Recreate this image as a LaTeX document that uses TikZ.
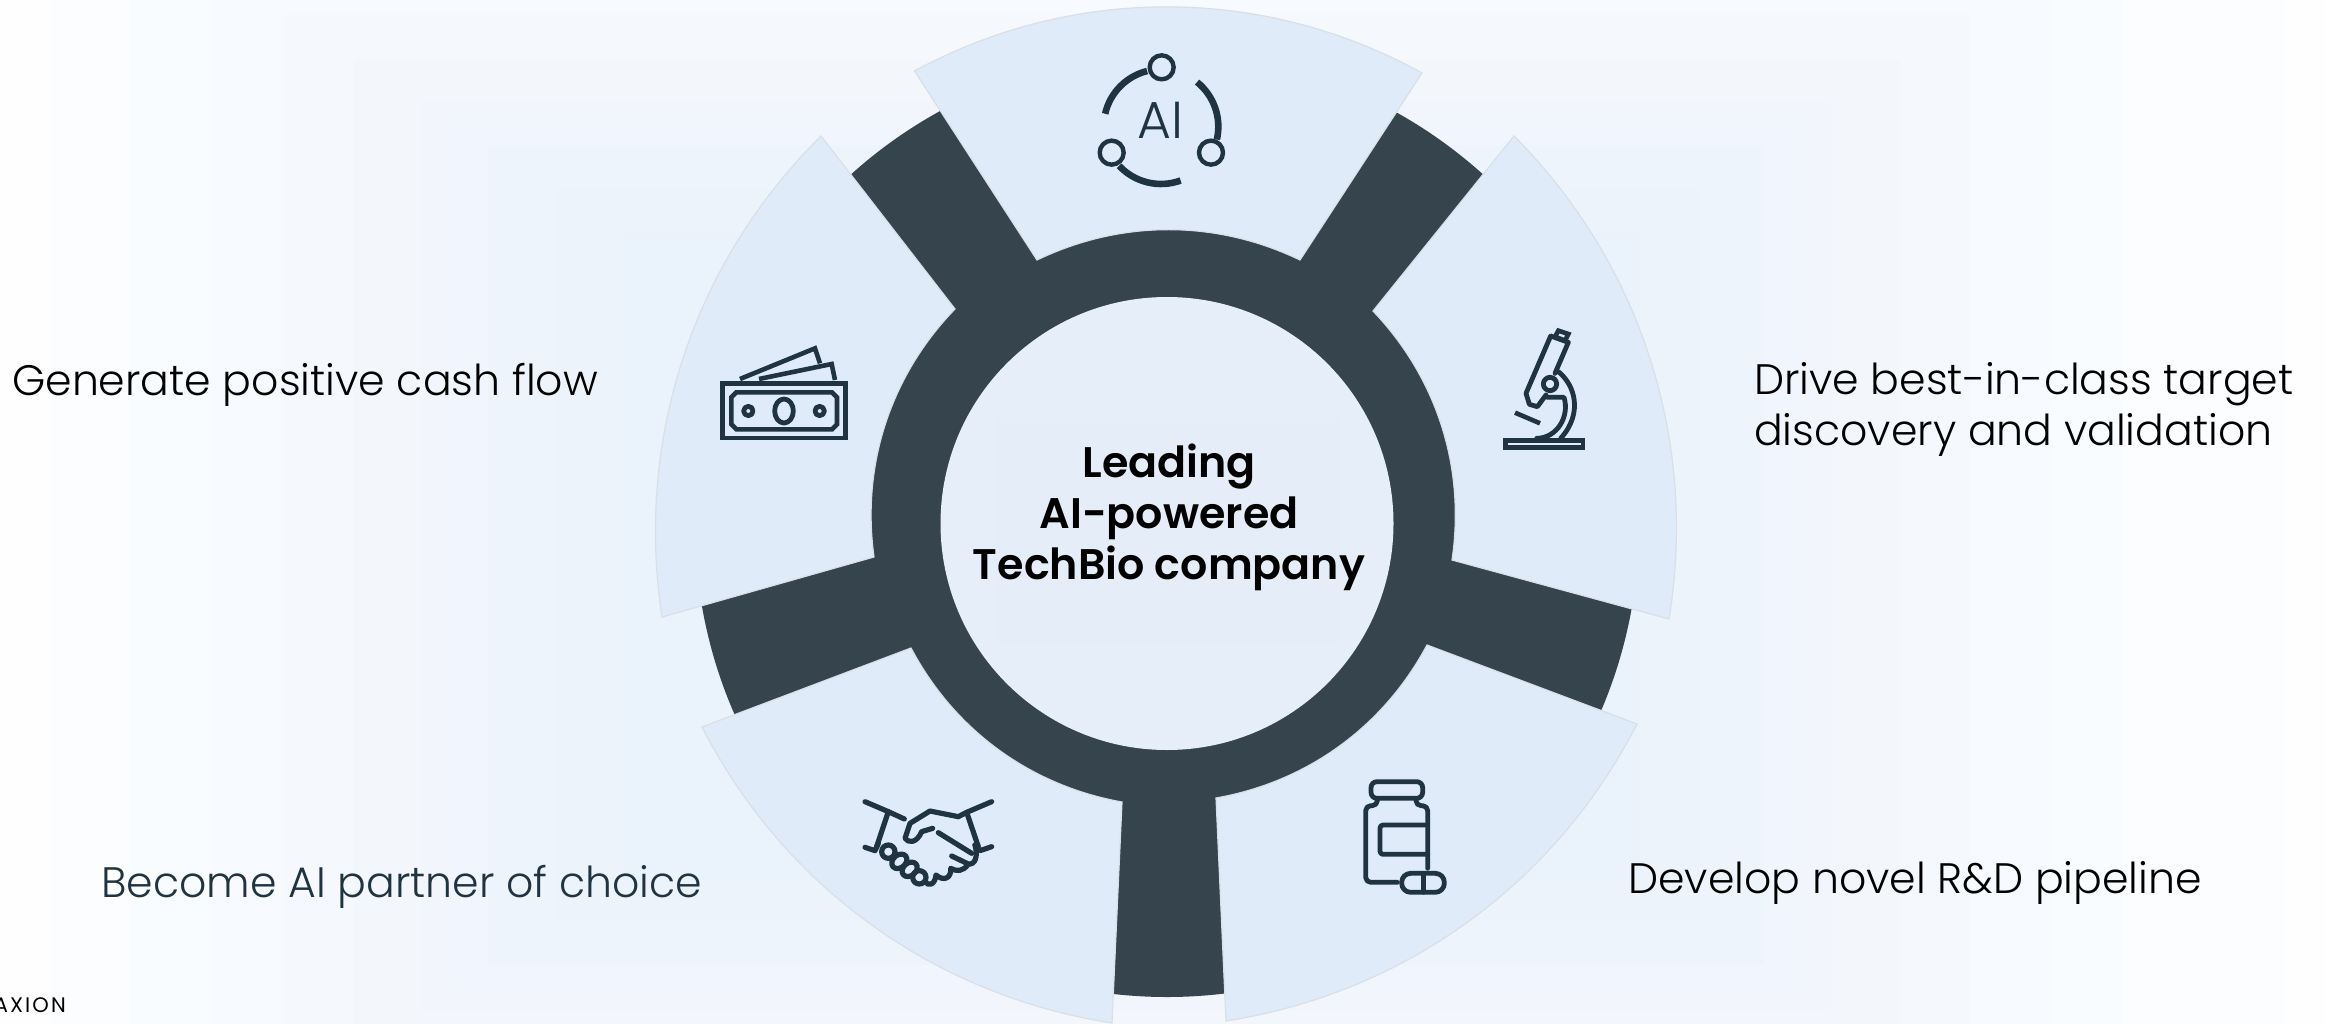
\documentclass[tikz,border=0pt]{standalone}
\usepackage{fontspec}
\setmainfont{Poppins}
\newfontfamily\poplight{Poppins Light}
\newfontfamily\popsemi{Poppins SemiBold}
\definecolor{dark}{HTML}{36444D}
\definecolor{icon}{HTML}{1F3340}
\definecolor{wedge}{HTML}{DFEBF9}
\definecolor{wedgeedge}{HTML}{D9DFE6}
\definecolor{hole}{HTML}{E6EEF9}
\tikzset{
  wedgeshape/.style={fill=wedge,draw=wedgeedge,line width=1.2pt,line join=miter},
  outerarc/.style={bend left=27,looseness=.91},
  innerarc/.style={bend right=26,looseness=.91},
  iconline/.style={draw=icon,line width=4.8pt,line cap=round,line join=round},
  handline/.style={draw=icon,line width=5.2pt,line cap=round,line join=round},
  iconmiter/.style={draw=icon,line width=4.6pt,line cap=butt,line join=miter},
  label/.style={font=\poplight\fontsize{42.6}{50}\selectfont,text=black,anchor=base west,inner sep=0pt},
  centertext/.style={font=\popsemi\fontsize{42.8}{50}\selectfont,text=black,anchor=base,inner sep=0pt}
}
\begin{document}
\begin{tikzpicture}[x=1pt,y=-1pt]
\useasboundingbox (0,0) rectangle (2325,1024);
% background: stepped rectangular glow
\fill[fill={rgb,255:red,254;green,254;blue,254}] (0,0) rectangle (2325,1024);
\fill[fill={rgb,255:red,252;green,253;blue,254}] (50,0) rectangle (2286,1024);
\fill[fill={rgb,255:red,249;green,252;blue,254}] (131,0) rectangle (2122,1024);
\fill[fill={rgb,255:red,247;green,250;blue,254}] (210,0) rectangle (2050,1024);
\fill[fill={rgb,255:red,245;green,248;blue,252}] (284,15) rectangle (1971,1024);
\fill[fill={rgb,255:red,243;green,247;blue,251}] (354,60) rectangle (1900,1024);
\fill[fill={rgb,255:red,242;green,246;blue,252}] (422,102) rectangle (1831,1010);
\fill[fill={rgb,255:red,241;green,245;blue,253}] (449,120) rectangle (1800,990);
\fill[fill={rgb,255:red,238;green,244;blue,251}] (488,145) rectangle (1764,965);
\fill[fill={rgb,255:red,236;green,243;blue,250}] (555,190) rectangle (1700,921);
\fill[fill={rgb,255:red,234;green,242;blue,251}] (623,233) rectangle (1640,880);
% dark disc
\fill[dark] (1167,525) circle [radius=472];
% wedges
\draw[wedgeshape] (914.5,71) to[bend left=28.7,looseness=.91] (1422,73) -- (1300,260) to[bend right=25.7,looseness=.91] (1037,260) -- cycle;
\draw[wedgeshape] (1514,136) to[outerarc] (1669,619) -- (1452,560) to[innerarc] (1373,311) -- cycle;
\draw[wedgeshape] (662,617) to[outerarc] (821,136) -- (955,309) to[innerarc] (874,557) -- cycle;
\draw[wedgeshape] (1637,724) to[outerarc] (1226,1021) -- (1216,798) to[innerarc] (1427,645) -- cycle;
\draw[wedgeshape] (1112,1023) to[outerarc] (702,727) -- (911,648) to[innerarc] (1122,802) -- cycle;
% hole
\fill[hole] (1167,523.5) circle [radius=226.5];
\fill[fill={rgb,255:red,228;green,237;blue,248}] (995,417) rectangle (1340,642);
% center text
\node[centertext] (c1) at (1169,477) {Leading};
\node[centertext] (c2) at (1169,528) {AI-powered};
\node[centertext] (c3) at (1169,579) {TechBio company};
% labels
\node[label] (l1) at (12,395.5) {Generate positive cash flow};
\node[label] (l2a) at (1754,394.5) {Drive best-in-class target};
\node[label] (l2b) at (1754,445) {discovery and validation};
\node[label] (l3) at (1628,893) {Develop novel R\&D pipeline};
\node[label,text=icon] (l4) at (101,897) {Become AI partner of choice};
\node[font={\addfontfeature{LetterSpace=10}\fontsize{21}{24}\selectfont},anchor=base east,inner sep=0pt] (ax) at (66,1012.7) {AXION};
% AI icon
\begin{scope}[shift={(1080,30)},x=0.3333pt,y=-0.3333pt]
\draw[iconline,line width=4.4pt] (245,112) circle [radius=36];
\draw[iconline,line width=4.4pt] (95,368) circle [radius=36];
\draw[iconline,line width=4.4pt] (393,368) circle [radius=36];
\draw[icon,line width=6.6pt] (243,290) ++(193:172) arc [start angle=193,end angle=256,radius=172];
\draw[icon,line width=6.6pt] (243,290) ++(309:172) arc [start angle=309,end angle=373,radius=172];
\draw[icon,line width=6.6pt] (243,290) ++(70:172) arc [start angle=70,end angle=137,radius=172];
\node[font=\poplight\fontsize{52}{52}\selectfont,text=icon,anchor=base,inner sep=0pt] (aitxt) at (242,325) {AI};
\end{scope}
% microscope
\begin{scope}[shift={(1490,310)},x=0.3333pt,y=-0.3333pt]
\draw[iconmiter] (46,391) rectangle (279,412);
\draw[iconline] (195,190) -- (235,97) -- (182,78) -- (108,250) -- (118,283) -- (142,290) -- (168,255);
\draw[iconmiter] (205,62) -- (235,72) -- (225,92) -- (195,80) -- cycle;
\draw[iconmiter] (75,308) -- (150,340);
\draw[iconline] (180,222) circle [radius=20];
\draw[iconline] (205,185) .. controls (255,225) and (280,310) .. (212,385);
\draw[iconline] (172,262) -- (222,262) .. controls (240,320) and (200,385) .. (140,385);
\end{scope}
% money
\begin{scope}[shift={(710,330)},x=0.3333pt,y=-0.3333pt]
\draw[iconmiter] (37,161) rectangle (406,324);
\draw[iconmiter] (79,187) -- (366,187) -- (381,202) -- (381,283) -- (366,298) -- (79,298) -- (64,283) -- (64,202) -- cycle;
\draw[iconline] (222,243) ellipse [x radius=28,y radius=36];
\draw[iconline] (115,243) circle [radius=14];
\draw[iconline] (329,243) circle [radius=14];
\draw[iconmiter] (90,147) -- (315,55) -- (330,100);
\draw[iconmiter] (147,147) -- (365,102) -- (375,150);
\end{scope}
% handshake
\begin{scope}[shift={(860,790)},x=0.3333pt,y=-0.3333pt]
\draw[handline] (15,35) -- (85,65) -- (133,87);
\draw[handline] (85,65) -- (50,170);
\draw[handline] (15,172) -- (45,182) -- (55,160);
\draw[handline] (395,35) -- (320,67) -- (295,80);
\draw[handline] (320,67) -- (355,170);
\draw[handline] (395,170) -- (360,182) -- (345,165);
\draw[handline] (295,80) -- (210,63) -- (150,100) -- (135,145) .. controls (145,160) and (170,160) .. (185,125) -- (218,115);
\draw[handline] (235,128) -- (335,190);
\draw[handline] (275,198) -- (325,222) .. controls (345,225) and (355,200) .. (345,165);
\draw[handline] (85,185) circle [radius=20];
\draw[handline,rotate around={40:(118,214)}] (118,214) ellipse [x radius=25,y radius=19];
\draw[handline,rotate around={40:(149,238)}] (149,238) ellipse [x radius=25,y radius=19];
\draw[handline] (178,262) circle [radius=20];
\draw[handline] (195,275) .. controls (205,290) and (225,285) .. (228,255) .. controls (250,275) and (275,265) .. (272,235) .. controls (290,245) and (310,245) .. (325,222);
\end{scope}
% pills
\begin{scope}[shift={(1360,775)},x=0.3333pt,y=-0.3333pt]
\draw[iconline,rounded corners=6pt] (33,20) rectangle (188,70);
\draw[iconline,rounded corners=5pt] (52,72) -- (52,92) -- (17,92) -- (17,322) -- (112,322);
\draw[iconline,rounded corners=5pt] (168,72) -- (168,92) -- (203,92) -- (203,280);
\draw[iconline,rounded corners=3pt] (203,150) -- (60,150) -- (60,238) -- (203,238);
\draw[iconline,rounded corners=9pt] (125,295) rectangle (253,352);
\draw[iconline] (190,295) -- (190,352);
\end{scope}
\end{tikzpicture}
\end{document}
